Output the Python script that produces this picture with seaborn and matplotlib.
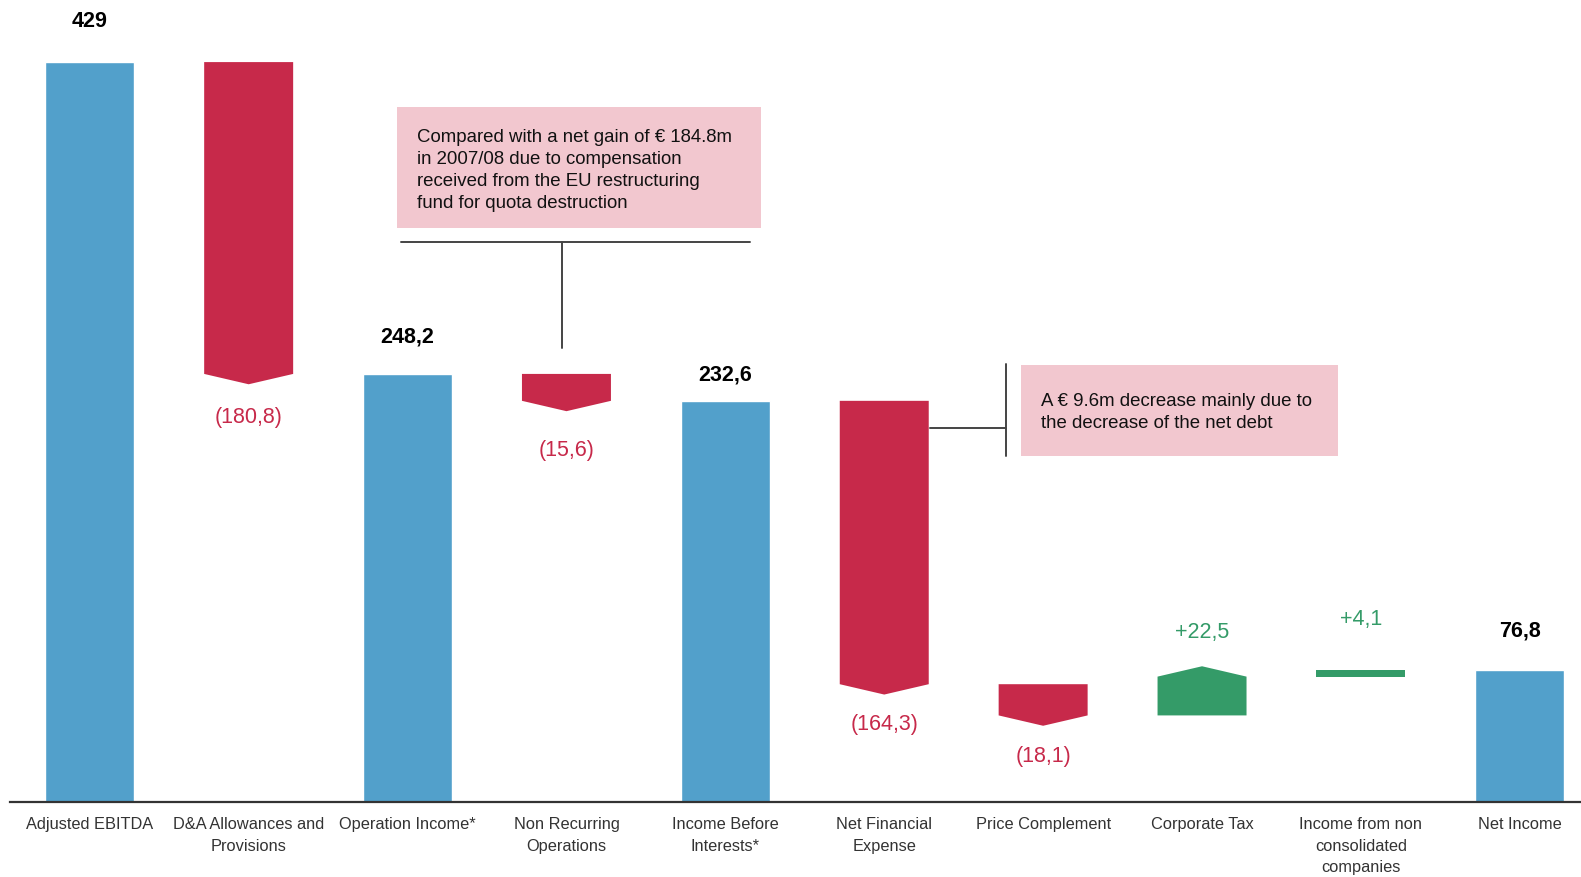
import matplotlib
matplotlib.use("Agg")
import matplotlib.pyplot as plt
from matplotlib.patches import Rectangle, Polygon
from matplotlib.lines import Line2D
import pandas as pd
import seaborn as sns

# ---- data -------------------------------------------------------------
categories = [
    "Adjusted EBITDA",
    "D&A Allowances and\nProvisions",
    "Operation Income*",
    "Non Recurring\nOperations",
    "Income Before\nInterests*",
    "Net Financial\nExpense",
    "Price Complement",
    "Corporate Tax",
    "Income from non\nconsolidated\ncompanies",
    "Net Income",
]
kinds = ["total", "delta", "total", "delta", "total",
         "delta", "delta", "delta", "delta", "total"]
values = [429.0, -180.8, 248.2, -15.6, 232.6, -164.3, -18.1, 22.5, 4.1, 76.8]
value_labels = ["429", "(180,8)", "248,2", "(15,6)", "232,6",
                "(164,3)", "(18,1)", "+22,5", "+4,1", "76,8"]

note_1 = ["Compared with a net gain of \u20ac 184.8m",
          "in 2007/08 due to compensation",
          "received from the EU restructuring",
          "fund for quota destruction"]
note_2 = ["A \u20ac 9.6m decrease mainly due to",
          "the decrease of the net debt"]

# ---- style ------------------------------------------------------------
BLUE = "#52A0CB"
RED = "#C7294A"
GREEN = "#349B68"
PINK = "#F2C7CF"
LINE = "#444444"
BAR_W = 0.56
TIP = 6.0           # height of the arrow point, data units
label_gap_px = [41, 33, 37, 39, 26, 30, 31, 34, 50, 39]

sns.set_style("white")
plt.rcParams["font.family"] = ["Liberation Sans", "DejaVu Sans"]

W, H = 1581, 877
fig = plt.figure(figsize=(W / 100, H / 100), dpi=100)
ax = fig.add_axes([10 / W, 1 - 802 / H, 1 - 10 / W, 802 / H])

# totals drawn as regular seaborn bars on the categorical axis
totals = pd.DataFrame({
    "cat": [c for c, k in zip(categories, kinds) if k == "total"],
    "val": [v for v, k in zip(values, kinds) if k == "total"],
})
sns.barplot(data=totals, x="cat", y="val", order=categories,
            width=BAR_W, color=BLUE, saturation=1, ax=ax, zorder=2)

# deltas drawn as arrow-shaped blocks between running levels
level = 0.0
anchors = []
for i, (k, v) in enumerate(zip(kinds, values)):
    if k == "total":
        level = v
        anchors.append((v, 1))
        continue
    start, end = level, level + v
    level = end
    x0, x1 = i - BAR_W / 2, i + BAR_W / 2
    tip = TIP if abs(v) > 10 else 0.0
    if v < 0:
        pts = [(x0, start), (x1, start), (x1, end), (i, end - tip), (x0, end)]
        anchors.append((end - tip, -1))
        color = RED
    else:
        pts = [(x0, start), (x1, start), (x1, end), (i, end + tip), (x0, end)]
        anchors.append((end + tip, 1))
        color = GREEN
    ax.add_patch(Polygon(pts, closed=True, facecolor=color,
                         edgecolor="none", zorder=2))

# value labels
for i, (k, v, lab) in enumerate(zip(kinds, values, value_labels)):
    y, side = anchors[i]
    if k == "total":
        color, weight = "black", "bold"
    else:
        color, weight = (RED if v < 0 else GREEN), "normal"
    ax.annotate(lab, xy=(i, y), xytext=(0, side * label_gap_px[i] * 0.72),
                textcoords="offset points", ha="center", va="center",
                fontsize=15.5, color=color, fontweight=weight)

ax.set_xlim(-0.502, 9.385)
ax.set_ylim(0, 465)
ax.set_xlabel("")
ax.set_ylabel("")
ax.set_yticks([])
ax.set_xticks(range(len(categories)))
ax.set_xticklabels(categories, fontsize=11.8, color="#333333",
                   linespacing=1.55)
ax.tick_params(axis="x", length=0, pad=11)
for s in ("top", "left", "right"):
    ax.spines[s].set_visible(False)
ax.spines["bottom"].set_color("#333333")
ax.spines["bottom"].set_linewidth(1.6)
ax.patch.set_alpha(0)


# ---- callouts (figure pixel positions) ---------------------------------
def fx(x):
    return x / W


def fy(y):
    return 1 - y / H


def box(x0, y0, x1, y1):
    fig.patches.append(Rectangle((fx(x0), fy(y1)), fx(x1) - fx(x0),
                                 fy(y0) - fy(y1), transform=fig.transFigure,
                                 facecolor=PINK, edgecolor="none", zorder=1))


def seg(xa, ya, xb, yb):
    fig.lines.append(Line2D([fx(xa), fx(xb)], [fy(ya), fy(yb)],
                            transform=fig.transFigure, color=LINE, lw=1.4))


box(397, 107, 761, 228)
for j, line in enumerate(note_1):
    fig.text(fx(417), fy(138 + j * 22), line, fontsize=13.4,
             color="#111111", va="center", ha="left")
seg(401, 242, 750, 242)
seg(562, 242, 562, 348)

box(1021, 365, 1338, 456)
for j, line in enumerate(note_2):
    fig.text(fx(1041), fy(402 + j * 22), line, fontsize=13.4,
             color="#111111", va="center", ha="left")
seg(930, 428, 1006, 428)
seg(1006, 364, 1006, 456)

fig.savefig("out.png", dpi=100)
